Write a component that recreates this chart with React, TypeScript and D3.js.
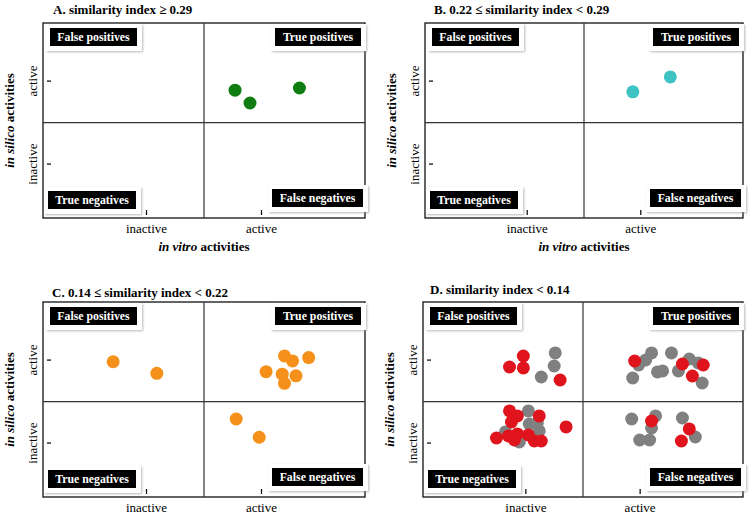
import React from "react";
import * as d3 from "d3";

const panelTitles = [
  "A. similarity index ≥ 0.29",
  "B. 0.22 ≤ similarity index < 0.29",
  "C. 0.14 ≤ similarity index < 0.22",
  "D. similarity index < 0.14",
];
const quadrantLabels = ["False positives", "True positives", "True negatives", "False negatives"];
const tickValues = [1, 2];
const xTickLabels = ["inactive", "active"];
const yTickLabels = ["inactive", "active"];
const dividerValue = 1.5;

// points: [in vitro, in silico]
const panelAGreen: [number, number][] = [
  [1.77, 1.89], [1.9, 1.736], [2.33, 1.917],
];
const panelBTeal: [number, number][] = [
  [1.93, 1.87], [2.26, 2.05],
];
const panelCOrange: [number, number][] = [
  [0.71, 1.98], [1.09, 1.84],
  [2.2, 2.05], [2.27, 1.99], [2.41, 2.03], [2.04, 1.86], [2.18, 1.83], [2.3, 1.81], [2.2, 1.72],
  [1.78, 1.29], [1.98, 1.07],
];
const panelDGray: [number, number][] = [
  [1.257, 2.086], [1.248, 1.929], [1.135, 1.796],
  [1.987, 1.941], [2.048, 2.001], [2.1, 2.086], [2.274, 2.086], [1.935, 1.784], [2.152, 1.857],
  [2.196, 1.869], [2.335, 1.869], [2.43, 2.013], [2.509, 1.965], [2.543, 1.724],
  [1.022, 1.387], [1.03, 1.23], [1.1, 1.242], [1.117, 1.146], [0.822, 1.134], [0.943, 1.013],
  [1.926, 1.29], [2.135, 1.327], [2.1, 1.182], [1.996, 1.037], [2.083, 1.037], [2.37, 1.302], [2.483, 1.073],
];
const panelDRed: [number, number][] = [
  [0.857, 1.917], [0.978, 2.049], [0.978, 1.905], [1.3, 1.76],
  [1.952, 1.989], [2.37, 1.953], [2.552, 1.941], [2.457, 1.808],
  [0.857, 1.387], [0.926, 1.327], [0.874, 1.254], [1.117, 1.327], [1.352, 1.194],
  [0.743, 1.061], [0.848, 1.086], [0.926, 1.11], [1.022, 1.098], [1.074, 1.025], [1.135, 1.025], [0.9, 1.037],
  [2.1, 1.266], [2.43, 1.17], [2.361, 1.025],
];

const FONT = "'Liberation Serif', 'Times New Roman', serif";

type Series = { pts: [number, number][]; color: string };
type Panel = { ox: number; oy: number; tx: number; ty: number; w: number; series: Series[]; xTitle: boolean };

const panels: Panel[] = [
  { ox: 0, oy: 0, tx: 53, ty: 14, w: 322, xTitle: true, series: [{ pts: panelAGreen, color: "#0f7d12" }] },
  { ox: 382, oy: 0, tx: 434, ty: 14, w: 318, xTitle: true, series: [{ pts: panelBTeal, color: "#3fc2c2" }] },
  { ox: 0, oy: 279, tx: 52, ty: 297, w: 322, xTitle: false, series: [{ pts: panelCOrange, color: "#f5911b" }] },
  {
    ox: 380, oy: 279, tx: 430, ty: 294, w: 320, xTitle: false,
    series: [{ pts: panelDGray, color: "#808080" }, { pts: panelDRed, color: "#e0141c" }],
  },
];

const BOX_L = 43;
const BOX_T = 23;
const BOX_H = 195;

function LabelBox({ x, y, w, h, text }: { x: number; y: number; w: number; h: number; text: string }) {
  return (
    <g>
      <rect x={x - 4} y={y - 4} width={w + 9} height={h + 9} fill="#fff" filter="url(#shadow)" />
      <rect x={x} y={y} width={w} height={h} fill="#000" />
      <text x={x + w / 2} y={y + h / 2 + 4} textAnchor="middle" fill="#fff" fontFamily={FONT} fontWeight="bold" fontSize={11.8}>
        {text}
      </text>
    </g>
  );
}

function QuadPanel({ p, title }: { p: Panel; title: string }) {
  const x = d3.scaleLinear().domain([0.1, 2.9]).range([BOX_L, BOX_L + p.w]);
  const y = d3.scaleLinear().domain([0.35, 2.7]).range([BOX_T + BOX_H, BOX_T]);
  const bottom = BOX_T + BOX_H;
  const right = BOX_L + p.w;
  return (
    <g transform={`translate(${p.ox},${p.oy})`}>
      <text x={p.tx - p.ox} y={p.ty - p.oy} fontFamily={FONT} fontWeight="bold" fontSize={13} fill="#000">
        {title}
      </text>
      <rect x={BOX_L} y={BOX_T} width={p.w} height={BOX_H} fill="#fff" stroke="#111" strokeWidth={1.3} />
      <line x1={x(dividerValue)} x2={x(dividerValue)} y1={BOX_T} y2={bottom} stroke="#333" strokeWidth={1.2} />
      <line x1={BOX_L} x2={right} y1={y(dividerValue)} y2={y(dividerValue)} stroke="#333" strokeWidth={1.2} />
      {tickValues.map((v, i) => (
        <g key={"xt" + i}>
          <line x1={x(v)} x2={x(v)} y1={bottom - 8} y2={bottom - 3} stroke="#000" strokeWidth={1.2} />
          <text x={x(v)} y={bottom + 15} textAnchor="middle" fontFamily={FONT} fontSize={13} fill="#000">
            {xTickLabels[i]}
          </text>
        </g>
      ))}
      {tickValues.map((v, i) => (
        <g key={"yt" + i}>
          <line x1={BOX_L + 4} x2={BOX_L + 8} y1={y(v)} y2={y(v)} stroke="#000" strokeWidth={1.2} />
          <text
            transform={`translate(37,${y(v)}) rotate(-90)`}
            textAnchor="middle"
            fontFamily={FONT}
            fontSize={13}
            fill="#000"
          >
            {yTickLabels[i]}
          </text>
        </g>
      ))}
      <text transform={`translate(14,${BOX_T + BOX_H / 2}) rotate(-90)`} textAnchor="middle" fontFamily={FONT} fontWeight="bold" fontSize={13} fill="#000">
        <tspan fontStyle="italic">in silico</tspan> activities
      </text>
      {p.xTitle && (
        <text x={(BOX_L + right) / 2} y={bottom + 33} textAnchor="middle" fontFamily={FONT} fontWeight="bold" fontSize={13} fill="#000">
          <tspan fontStyle="italic">in vitro</tspan> activities
        </text>
      )}
      <LabelBox x={BOX_L + 7} y={BOX_T + 5} w={87} h={18} text={quadrantLabels[0]} />
      <LabelBox x={right - 90} y={BOX_T + 5} w={86} h={18} text={quadrantLabels[1]} />
      <LabelBox x={BOX_L + 5} y={bottom - 27} w={88} h={18} text={quadrantLabels[2]} />
      <LabelBox x={right - 93} y={bottom - 29} w={91} h={18} text={quadrantLabels[3]} />
      {p.series.map((s, si) => (
        <g key={"s" + si}>
          {s.pts.map((d, i) => (
            <circle key={i} cx={x(d[0])} cy={y(d[1])} r={6.5} fill={s.color} />
          ))}
        </g>
      ))}
    </g>
  );
}

export default function App() {
  return (
    <svg width={750} height={514} style={{ position: "absolute", left: 0, top: 0, background: "#fff" }}>
      <defs>
        <filter id="shadow" x="-20%" y="-40%" width="140%" height="180%">
          <feDropShadow dx="1" dy="1" stdDeviation="1.2" floodColor="#888" floodOpacity="0.6" />
        </filter>
      </defs>
      <rect width={750} height={514} fill="#fff" />
      {panels.map((p, i) => (
        <QuadPanel key={i} p={p} title={panelTitles[i]} />
      ))}
    </svg>
  );
}
